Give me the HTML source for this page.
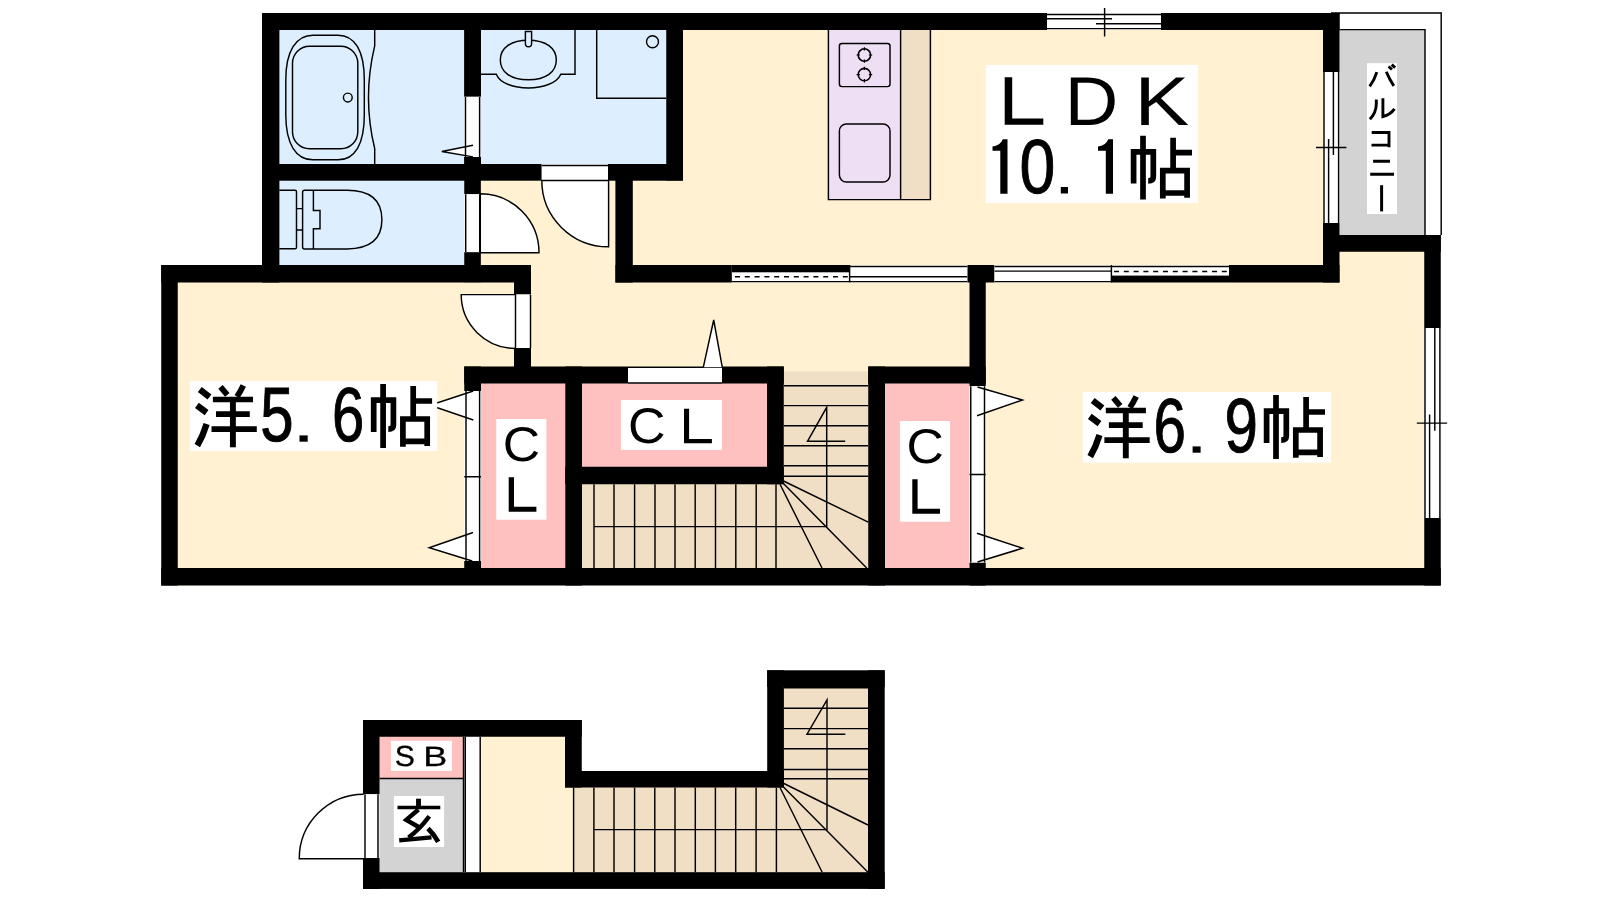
<!DOCTYPE html>
<html>
<head>
<meta charset="utf-8">
<title>Floor plan</title>
<style>
html,body{margin:0;padding:0;background:#fff;}
body{width:1600px;height:900px;overflow:hidden;font-family:"Liberation Sans",sans-serif;}
svg{display:block;will-change:transform;}
.t{font-family:"Liberation Sans",sans-serif;fill:#000;text-rendering:geometricPrecision;}
</style>
</head>
<body>
<svg width="1600" height="900" viewBox="0 0 1600 900">
<rect x="0" y="0" width="1600" height="900" fill="#ffffff"/>

<!-- ================= UPPER FLOOR : FILLS ================= -->
<g id="fills-upper">
  <!-- cream base -->
  <polygon points="262,13 1339.5,13 1339.5,235 1440.75,235 1440.75,585.5 161.25,585.5 161.25,265 262,265" fill="#fff1d2"/>
  <!-- bath / wash / toilet -->
  <rect x="279" y="30" width="186" height="134" fill="#ddeeff"/>
  <rect x="480" y="30" width="187" height="134" fill="#ddeeff"/>
  <rect x="279" y="180" width="186" height="85" fill="#ddeeff"/>
  <!-- balcony -->
  <rect x="1339.5" y="29.5" width="85.5" height="206" fill="#d3d3d3"/>
  <!-- closets -->
  <rect x="481" y="383" width="85" height="185" fill="#ffc0c0"/>
  <rect x="582" y="383" width="185" height="84" fill="#ffc0c0"/>
  <rect x="885" y="383" width="84.5" height="185" fill="#ffc0c0"/>
  <!-- stairs -->
  <rect x="783" y="371.25" width="86" height="197" fill="#f0dfc5"/>
  <rect x="582" y="484" width="202" height="84" fill="#f0dfc5"/>
  <!-- kitchen -->
  <rect x="828.4" y="30" width="72.2" height="169.6" fill="#eedff5"/>
  <rect x="900.6" y="30" width="29.8" height="169.6" fill="#f0dfc5"/>
</g>

<!-- ================= LOWER FLOOR : FILLS ================= -->
<g id="fills-lower">
  <rect x="379" y="736" width="84.5" height="42.5" fill="#ffc0c0"/>
  <rect x="379" y="778.5" width="84.5" height="94" fill="#d3d3d3"/>
  <rect x="463.5" y="736" width="18" height="137" fill="#ffffff"/>
  <rect x="481" y="736" width="93" height="137" fill="#fff1d2"/>
  <rect x="573.6" y="787" width="295" height="86" fill="#f0dfc5"/>
  <rect x="783" y="686" width="86" height="102" fill="#f0dfc5"/>
</g>

<!-- ================= UPPER FLOOR : WALLS ================= -->
<g id="walls-upper" fill="#000">
  <!-- top wall -->
  <rect x="262" y="13" width="785" height="17"/>
  <rect x="1161" y="13" width="178.5" height="17"/>
  <!-- bath/toilet left wall -->
  <rect x="262" y="13" width="17.4" height="269.5"/>
  <!-- Y5.6 top wall -->
  <rect x="161.25" y="265" width="369.75" height="17.5"/>
  <!-- Y5.6 left wall -->
  <rect x="161.25" y="265" width="16.5" height="320.5"/>
  <!-- bottom wall -->
  <rect x="161.25" y="568" width="1279.5" height="17.5"/>
  <!-- Y6.9 right wall -->
  <rect x="1424.25" y="235" width="16.5" height="93"/>
  <rect x="1424.25" y="518" width="16.5" height="67.5"/>
  <!-- balcony bottom wall -->
  <rect x="1323" y="235" width="117.75" height="16.75"/>
  <!-- LDK right wall -->
  <rect x="1323" y="13" width="16.5" height="59"/>
  <rect x="1323" y="223" width="16.5" height="59.5"/>
  <!-- LDK bottom wall -->
  <rect x="615.5" y="265" width="116.4" height="17.5"/>
  <rect x="967.3" y="265" width="27.2" height="17.5"/>
  <rect x="1229" y="265" width="110.5" height="17.5"/>
  <!-- LDK left wall -->
  <rect x="615.4" y="164" width="17.4" height="118.5"/>
  <!-- bath/wash bottom wall -->
  <rect x="262" y="164" width="279.75" height="16.7"/>
  <rect x="608" y="164" width="75" height="16.7"/>
  <!-- washroom right wall -->
  <rect x="666.25" y="13" width="16.75" height="167.5"/>
  <!-- bath/wash divider -->
  <rect x="464.1" y="13" width="16.9" height="83.8"/>
  <rect x="464.1" y="156.9" width="16.9" height="23"/>
  <!-- toilet right wall -->
  <rect x="464.25" y="180" width="16.6" height="14.25"/>
  <rect x="464.25" y="252.2" width="16.6" height="30"/>
  <!-- Y5.6 right wall -->
  <rect x="514" y="265" width="17" height="29.5"/>
  <rect x="514" y="348" width="17" height="35"/>
  <!-- CL top wall -->
  <rect x="464.25" y="366.5" width="163.75" height="17"/>
  <rect x="722" y="366.5" width="61.75" height="17"/>
  <rect x="868.25" y="366.5" width="117.5" height="17"/>
  <!-- hall right wall -->
  <rect x="969.5" y="265" width="16.25" height="121.25"/>
  <!-- CL dividers -->
  <rect x="565.3" y="366.5" width="16.7" height="219"/>
  <rect x="565.3" y="466.75" width="218.45" height="17.5"/>
  <rect x="767" y="366.5" width="16.75" height="117.75"/>
  <rect x="868.25" y="366.5" width="16.75" height="219"/>
  <!-- CL door jambs -->
  <rect x="464.25" y="366.5" width="16.75" height="24.5"/>
  <rect x="464.25" y="561" width="16.75" height="24"/>
  <rect x="969.5" y="562.5" width="16.25" height="23"/>
</g>

<!-- ================= LOWER FLOOR : WALLS ================= -->
<g id="walls-lower" fill="#000">
  <rect x="363" y="720" width="218.75" height="16.75"/>
  <rect x="363" y="720" width="16.5" height="74.25"/>
  <rect x="363" y="858" width="16.5" height="31"/>
  <rect x="363" y="872.2" width="521.7" height="16.7"/>
  <rect x="565" y="720" width="16.75" height="67.5"/>
  <rect x="565" y="771" width="218.9" height="16.5"/>
  <rect x="767.2" y="670.3" width="16.7" height="117.2"/>
  <rect x="767.2" y="670.3" width="117.5" height="16.7"/>
  <rect x="868" y="670.3" width="16.7" height="218.6"/>
</g>

<g id="openings" stroke="#000" stroke-width="1.45" fill="none" stroke-linecap="butt">
  <!-- top window -->
  <rect x="1047" y="13" width="114" height="17" fill="#fff" stroke="none"/>
  <path d="M1047,14.5H1161 M1047,18.7H1112 M1096,23.7H1161 M1047,28.6H1161 M1104.6,8V36.5"/>
  <!-- LDK right window -->
  <rect x="1323" y="72" width="16.5" height="151" fill="#fff" stroke="none"/>
  <path d="M1324,72V223 M1328.6,139V223 M1333.4,72V155 M1338.6,72V223 M1316,147.4H1346.4"/>
  <!-- Y6.9 right window -->
  <rect x="1424.25" y="328" width="16.5" height="190" fill="#fff" stroke="none"/>
  <path d="M1425,328V518 M1429.6,414.5V518 M1434.8,328V430.8 M1439.9,328V518 M1416.8,423.1H1447.1"/>
  <!-- balcony rails -->
  <path d="M1331,13H1441.2V235 M1339.5,29.6H1425V235"/>
  <!-- LDK bottom windows A,B -->
  <rect x="731.9" y="265" width="235.4" height="17.5" fill="#fff" stroke="none"/>
  <rect x="731.9" y="265" width="117.7" height="7.3" fill="#000" stroke="none"/>
  <path d="M731.9,281.6H967.3 M849.6,265V282.5 M849.6,266.5H967.3 M849.6,276.8H967.3"/>
  <path d="M735,276.8H849.6" stroke-dasharray="5 4.8" stroke-width="1.5"/>
  <!-- LDK bottom windows C,D -->
  <rect x="994.5" y="265" width="234.5" height="17.5" fill="#fff" stroke="none"/>
  <rect x="1111.4" y="275.6" width="117.6" height="6.9" fill="#000" stroke="none"/>
  <path d="M994.5,266.4H1229 M1111.4,265V282.5 M994.5,271.1H1111.4 M994.5,281.6H1111.4"/>
  <path d="M1114,271.6H1229" stroke-dasharray="5 4.8" stroke-width="1.5"/>
  <!-- bath door -->
  <rect x="464.25" y="96.8" width="16.4" height="60.2" fill="#fff" stroke="none"/>
  <path d="M473,145.3L441.8,151.5L473,156.9Z" fill="#fff" stroke="none"/>
  <path d="M465.5,97V157 M479.6,97V157"/>
  <path d="M473,145.3L441.8,151.5L473,156.9"/>
  <!-- toilet door -->
  <rect x="464.25" y="194.25" width="15.75" height="57.75" fill="#fff" stroke="none"/>
  <path d="M465.7,194.25V252 M479.7,194.25V252"/>
  <path d="M480.3,193.8A58.7,58.9 0 0 1 539,252.7H480.3Z" fill="#fff"/>
  <!-- wash door -->
  <rect x="541.75" y="164" width="66.25" height="16.5" fill="#fff" stroke="none"/>
  <path d="M541.75,165.4H608 M541.75,180.5H608"/>
  <path d="M541.8,180.6A66.8,66.2 0 0 0 608.6,246.8V180.6Z" fill="#fff"/>
  <!-- Y5.6 door -->
  <rect x="514" y="294.5" width="17" height="53.5" fill="#fff" stroke="none"/>
  <path d="M530.5,294.5V348"/>
  <path d="M461.2,294.6A54.3,53.8 0 0 0 515.5,348.4V294.6Z" fill="#fff"/>
  <!-- hall CL door -->
  <rect x="628" y="366.5" width="94" height="17" fill="#fff" stroke="none"/>
  <path d="M628,367.3H722 M628,383H722"/>
  <path d="M703.3,367.3L713.7,320L722.3,367.3" fill="#fff"/>
  <!-- left CL door -->
  <rect x="464.25" y="391" width="16.75" height="170" fill="#fff" stroke="none"/>
  <path d="M473.3,391L430,405.3L473.3,420Z" fill="#fff" stroke="none"/>
  <path d="M473,532.5L429.2,547.8L472.2,561Z" fill="#fff" stroke="none"/>
  <path d="M466,391V561 M479.6,391V561 M464.25,476.7H481"/>
  <path d="M473.3,391L430,405.3L473.3,420 M473,532.5L429.2,547.8L472.2,561"/>
  <!-- right CL door -->
  <rect x="969.5" y="386.25" width="16.25" height="176.25" fill="#fff" stroke="none"/>
  <path d="M977.5,387L1022.5,400L977,415.75Z" fill="#fff" stroke="none"/>
  <path d="M977,533.25L1022.5,548.25L977.5,562Z" fill="#fff" stroke="none"/>
  <path d="M970.75,386.25V562.5 M984.5,386.25V562.5 M969.5,474.5H985.75"/>
  <path d="M977.5,387L1022.5,400L977,415.75 M977,533.25L1022.5,548.25L977.5,562"/>
  <!-- front door -->
  <rect x="363" y="794.25" width="16.5" height="63.75" fill="#fff" stroke="none"/>
  <path d="M365,794.25V858 M378,794.25V858"/>
  <path d="M363.75,794.2A64.5,64.5 0 0 0 299.25,858.7H363.75"/>
  <!-- lower floor strip -->
  <path d="M463.5,736.75V872 M465.3,736.75V872 M480.2,736.75V872 M379.5,778.5H463.5"/>
</g>

<!--OPENINGS_END-->
<g id="fixtures" stroke="#000" stroke-width="1.45" fill="none">
  <!-- bathtub outer / inner -->
  <path d="M313,35.2H338C355,35.2 364.3,51 364.3,80V115C364.3,144 355,159.8 338,159.8H313C296,159.8 285.8,144 285.8,115V80C285.8,51 296,35.2 313,35.2Z"/>
  <rect x="292.5" y="46.3" width="65.3" height="102.5" rx="17" ry="17"/>
  <circle cx="347.8" cy="97.5" r="4.4"/>
  <!-- tub apron -->
  <path d="M374.7,30V45.8 C366.5,80 366.5,115 374.7,148.5 V164"/>
  <!-- vanity -->
  <path d="M575,30V74.2H560.8 C553,92.5 503.5,92.5 496.3,74.2 H481"/>
  <path d="M528.3,40.2C546,40.2 556.3,48 556.3,60C556.3,72 546,79.8 528.3,79.8C510.6,79.8 500.3,72 500.3,60C500.3,48 510.6,40.2 528.3,40.2Z"/>
  <path d="M525.4,31.5H531.6V43.5Q531.6,46.8 528.5,46.8Q525.4,46.8 525.4,43.5Z" fill="#ddeeff"/>
  <!-- washer pan -->
  <path d="M596.7,30V98.3H666.25"/>
  <circle cx="652.5" cy="41.7" r="6"/>
  <!-- toilet -->
  <path d="M279.25,190.3H295Q296.5,190.3 296.5,191.8V247.2Q296.5,248.8 295,248.8H279.25"/>
  <path d="M296.5,208.6H302.5 M296.5,230H302.5"/>
  <path d="M304.5,190.3H347 C370,190.3 381.9,200 381.9,219.6 C381.9,239.2 370,248.9 347,248.9 H304.5 Q302.6,248.9 302.6,247 V192.2 Q302.6,190.3 304.5,190.3Z"/>
  <path d="M313.4,190.3V210.4H320V228.8H313.4V248.9"/>
  <!-- stove -->
  <rect x="839.4" y="43.4" width="50.6" height="43.2" rx="2.5" ry="2.5"/>
  <circle cx="864.4" cy="55" r="6.2" stroke-width="1.6"/>
  <circle cx="864.4" cy="74.6" r="6.2" stroke-width="1.6"/>
  <path d="M864.4,47.2V50.5 M864.4,59.5V62.8 M856.6,55H859.9 M868.9,55H872.2 M864.4,66.8V70.1 M864.4,79.1V82.4 M856.6,74.6H859.9 M868.9,74.6H872.2" stroke-width="1.2"/>
  <!-- sink -->
  <rect x="839.4" y="124" width="50.6" height="58" rx="7" ry="7"/>
  <!-- kitchen outline -->
  <path d="M828.4,30V199.6H930.4V30 M900.6,30V199.6"/>
</g>

<!--FIXTURES_END-->
<g id="stairs" stroke="#000" stroke-width="1.45" fill="none">
  <!-- upper floor stairs: horizontal treads -->
  <path d="M783.75,385.7H868.25 M783.75,405.6H868.25 M783.75,425.7H868.25 M783.75,445.8H868.25 M783.75,465.8H868.25 M783.75,476.3H868.25"/>
  <!-- vertical treads -->
  <path d="M594,484.25V568 M614,484.25V568 M634.6,484.25V568 M655,484.25V568 M675,484.25V568 M695.2,484.25V568 M715.5,484.25V568 M735.8,484.25V568 M756.2,484.25V568 M776,484.25V568"/>
  <!-- winders -->
  <path d="M783.5,481L868.25,522.2 M782.5,482.5L866.7,568 M780,484.25L822,568"/>
  <!-- direction line -->
  <path d="M594.4,526.6H826.7V407.3L807.5,441.3H845.2"/>
  <!-- lower floor stairs -->
  <path d="M783.9,687.8H868 M783.9,708.3H868 M783.9,728.6H868 M783.9,748.7H868 M783.9,769.4H868 M783.9,778.7H868"/>
  <path d="M573.6,787.5V872.2 M593.9,787.5V872.2 M614,787.5V872.2 M634.6,787.5V872.2 M654.8,787.5V872.2 M675,787.5V872.2 M695.3,787.5V872.2 M715.4,787.5V872.2 M735.7,787.5V872.2 M756.1,787.5V872.2 M776.4,787.5V872.2"/>
  <path d="M783.9,783.5L868,825 M782.5,786L868,872.2 M780,787.5L822.2,872.2"/>
  <path d="M594.4,829.6H827V700L807,734.2H845.3"/>
</g>

<!--STAIRS_END-->
<!--LABELS_START-->
<g id="labels" fill="#000">
<rect x="985.8" y="65" width="212.2" height="138.0" fill="#fff"/>
<rect x="189.9" y="381" width="247.3" height="70.0" fill="#fff"/>
<rect x="1082.8" y="392" width="248.1" height="70.7" fill="#fff"/>
<rect x="620.9" y="400" width="101.1" height="49.9" fill="#fff"/>
<rect x="899.9" y="421" width="50.1" height="100.7" fill="#fff"/>
<rect x="496.3" y="419" width="50.1" height="100.7" fill="#fff"/>
<rect x="390.9" y="740.8" width="61.1" height="30.1" fill="#fff"/>
<rect x="393.9" y="796" width="50.2" height="51.0" fill="#fff"/>
<rect x="1367" y="63.2" width="30.0" height="150.8" fill="#fff"/>
<path d="M1004.7,77.2H1012.2V118.4H1043.3V124.7H1004.7Z"/>
<text class="t" font-size="100" transform="translate(1064.72,124.70) scale(0.7412,0.6904)">D</text>
<text class="t" font-size="100" transform="translate(1134.58,124.70) scale(0.8192,0.6904)">K</text>
<path d="M1007.5,139.2V193.8H1000.3V150.8H992.5V146.4Q1000.0,146.0 1002.8,139.2Z"/>
<text class="t" font-size="100" transform="translate(1019.60,193.25) scale(0.6435,0.7670)" stroke="#000" stroke-width="1.3">0</text>
<rect x="1060.8" y="187" width="7.2" height="6.5"/>
<path d="M1113.0,139.2V193.8H1105.8V150.8H1098.0V146.4Q1105.5,146.0 1108.3,139.2Z"/>
<g transform="translate(759.9,-248.3)" aria-label="帖"><g fill="none" stroke="#000" stroke-width="5.7" stroke-linecap="butt" stroke-linejoin="miter">
<path d="M373.7,397.2V431.9 M370.9,400.1H396.2 M393.4,397.2V425Q393.4,429.2 388.3,429.2 M383.1,384.1V447.9"/>
<path d="M413.2,386V417 M413.2,401H432.1"/>
<path d="M402.9,446.8V419H427.2V446 M402.9,441.3H427.2"/>
</g></g>
<g aria-label="洋"><g fill="none" stroke="#000" stroke-width="5.5" stroke-linecap="butt">
<path d="M199.8,389.4L209.5,397 M196.9,405.4L206.6,412.6 M206.6,424Q203,436 197.3,445.6" stroke-width="6.3"/>
<path d="M220.5,386.9L227.3,394.9 M243.3,385.6Q240.5,391.5 237,396.6" stroke-width="5.8"/>
<path d="M212.9,399.5H253 M216,414.1H249.8 M211.5,429.1H256.8" stroke-width="5.6"/>
<path d="M232.9,397V447.3" stroke-width="5.9"/>
</g></g>
<text class="t" font-size="100" transform="translate(260.19,440.75) scale(0.5994,0.7710)" stroke="#000" stroke-width="1.3">5</text>
<rect x="299.5" y="435.4" width="8.2" height="6.3"/>
<text class="t" font-size="100" transform="translate(331.93,440.75) scale(0.5796,0.7656)" stroke="#000" stroke-width="1.3">6</text>
<g aria-label="帖"><g fill="none" stroke="#000" stroke-width="5.7" stroke-linecap="butt" stroke-linejoin="miter">
<path d="M373.7,397.2V431.9 M370.9,400.1H396.2 M393.4,397.2V425Q393.4,429.2 388.3,429.2 M383.1,384.1V447.9"/>
<path d="M413.2,386V417 M413.2,401H432.1"/>
<path d="M402.9,446.8V419H427.2V446 M402.9,441.3H427.2"/>
</g></g>
<g transform="translate(892.9,11)" aria-label="洋"><g fill="none" stroke="#000" stroke-width="5.5" stroke-linecap="butt">
<path d="M199.8,389.4L209.5,397 M196.9,405.4L206.6,412.6 M206.6,424Q203,436 197.3,445.6" stroke-width="6.3"/>
<path d="M220.5,386.9L227.3,394.9 M243.3,385.6Q240.5,391.5 237,396.6" stroke-width="5.8"/>
<path d="M212.9,399.5H253 M216,414.1H249.8 M211.5,429.1H256.8" stroke-width="5.6"/>
<path d="M232.9,397V447.3" stroke-width="5.9"/>
</g></g>
<text class="t" font-size="100" transform="translate(1153.61,451.75) scale(0.5839,0.7656)" stroke="#000" stroke-width="1.3">6</text>
<rect x="1192.6" y="446.4" width="8.0" height="6.3"/>
<text class="t" font-size="100" transform="translate(1224.48,451.75) scale(0.6001,0.7656)" stroke="#000" stroke-width="1.3">9</text>
<g transform="translate(892.9,11)" aria-label="帖"><g fill="none" stroke="#000" stroke-width="5.7" stroke-linecap="butt" stroke-linejoin="miter">
<path d="M373.7,397.2V431.9 M370.9,400.1H396.2 M393.4,397.2V425Q393.4,429.2 388.3,429.2 M383.1,384.1V447.9"/>
<path d="M413.2,386V417 M413.2,401H432.1"/>
<path d="M402.9,446.8V419H427.2V446 M402.9,441.3H427.2"/>
</g></g>
<text class="t" font-size="100" transform="translate(627.96,443.11) scale(0.5195,0.5000)">C</text>
<path d="M684,408.7H689.1V438.90000000000003H711.9V443.3H684Z"/>
<text class="t" font-size="100" transform="translate(906.38,462.82) scale(0.5163,0.4873)">C</text>
<path d="M912.3,479.3H917.5999999999999V508.70000000000005H940V513.7H912.3Z"/>
<text class="t" font-size="100" transform="translate(502.78,460.82) scale(0.5163,0.4873)">C</text>
<path d="M508.69999999999993,477.3H513.9999999999999V506.7H536.4V511.7H508.69999999999993Z"/>
<text class="t" font-size="100" transform="translate(394.78,766.37) scale(0.3022,0.2911)" stroke="#000" stroke-width="1.0">S</text>
<text class="t" font-size="100" transform="translate(423.13,765.96) scale(0.3596,0.2794)" stroke="#000" stroke-width="1.0">B</text>
<g aria-label="玄"><g fill="none" stroke="#000" stroke-linecap="butt" stroke-linejoin="miter">
<path d="M418.5,798.7V806.3" stroke-width="4.9"/>
<path d="M397.5,807.5H440.3" stroke-width="3.7"/>
<path d="M418.5,809.5L406.3,819.9L418.6,827" stroke-width="4.4"/>
<path d="M429.3,816.2Q420,829 408.5,837.5" stroke-width="4.4"/>
<path d="M399.2,840.4L431.5,837.4" stroke-width="4.4"/>
<path d="M428,828.4Q434,834 438.2,841.8" stroke-width="4.8"/>
</g></g>
<g aria-label="バルコニー"><g fill="none" stroke="#000" stroke-width="2.9" stroke-linecap="butt" stroke-linejoin="miter">
<path d="M1376.8,72.2Q1374.5,80 1369.7,86.4 M1386.3,71.8Q1389.5,79.5 1393.8,85.9 M1388.5,66.5L1392,69.5 M1391.7,64.7L1395.1,67.7"/>
<path d="M1376.3,99.5V104Q1376.3,112.5 1369.9,119.2 M1382.9,98.2V116.5Q1390.5,114.5 1394.5,108.8"/>
<path d="M1371.7,132.5H1389V147.2 M1371.5,145.1H1389"/>
<path d="M1373.1,161.2H1390 M1370.2,174.2H1394"/>
<path d="M1381.6,185.2V211.4" stroke-width="3"/>
</g></g>
</g>
<!--LABELS_END-->
</svg>
</body>
</html>
